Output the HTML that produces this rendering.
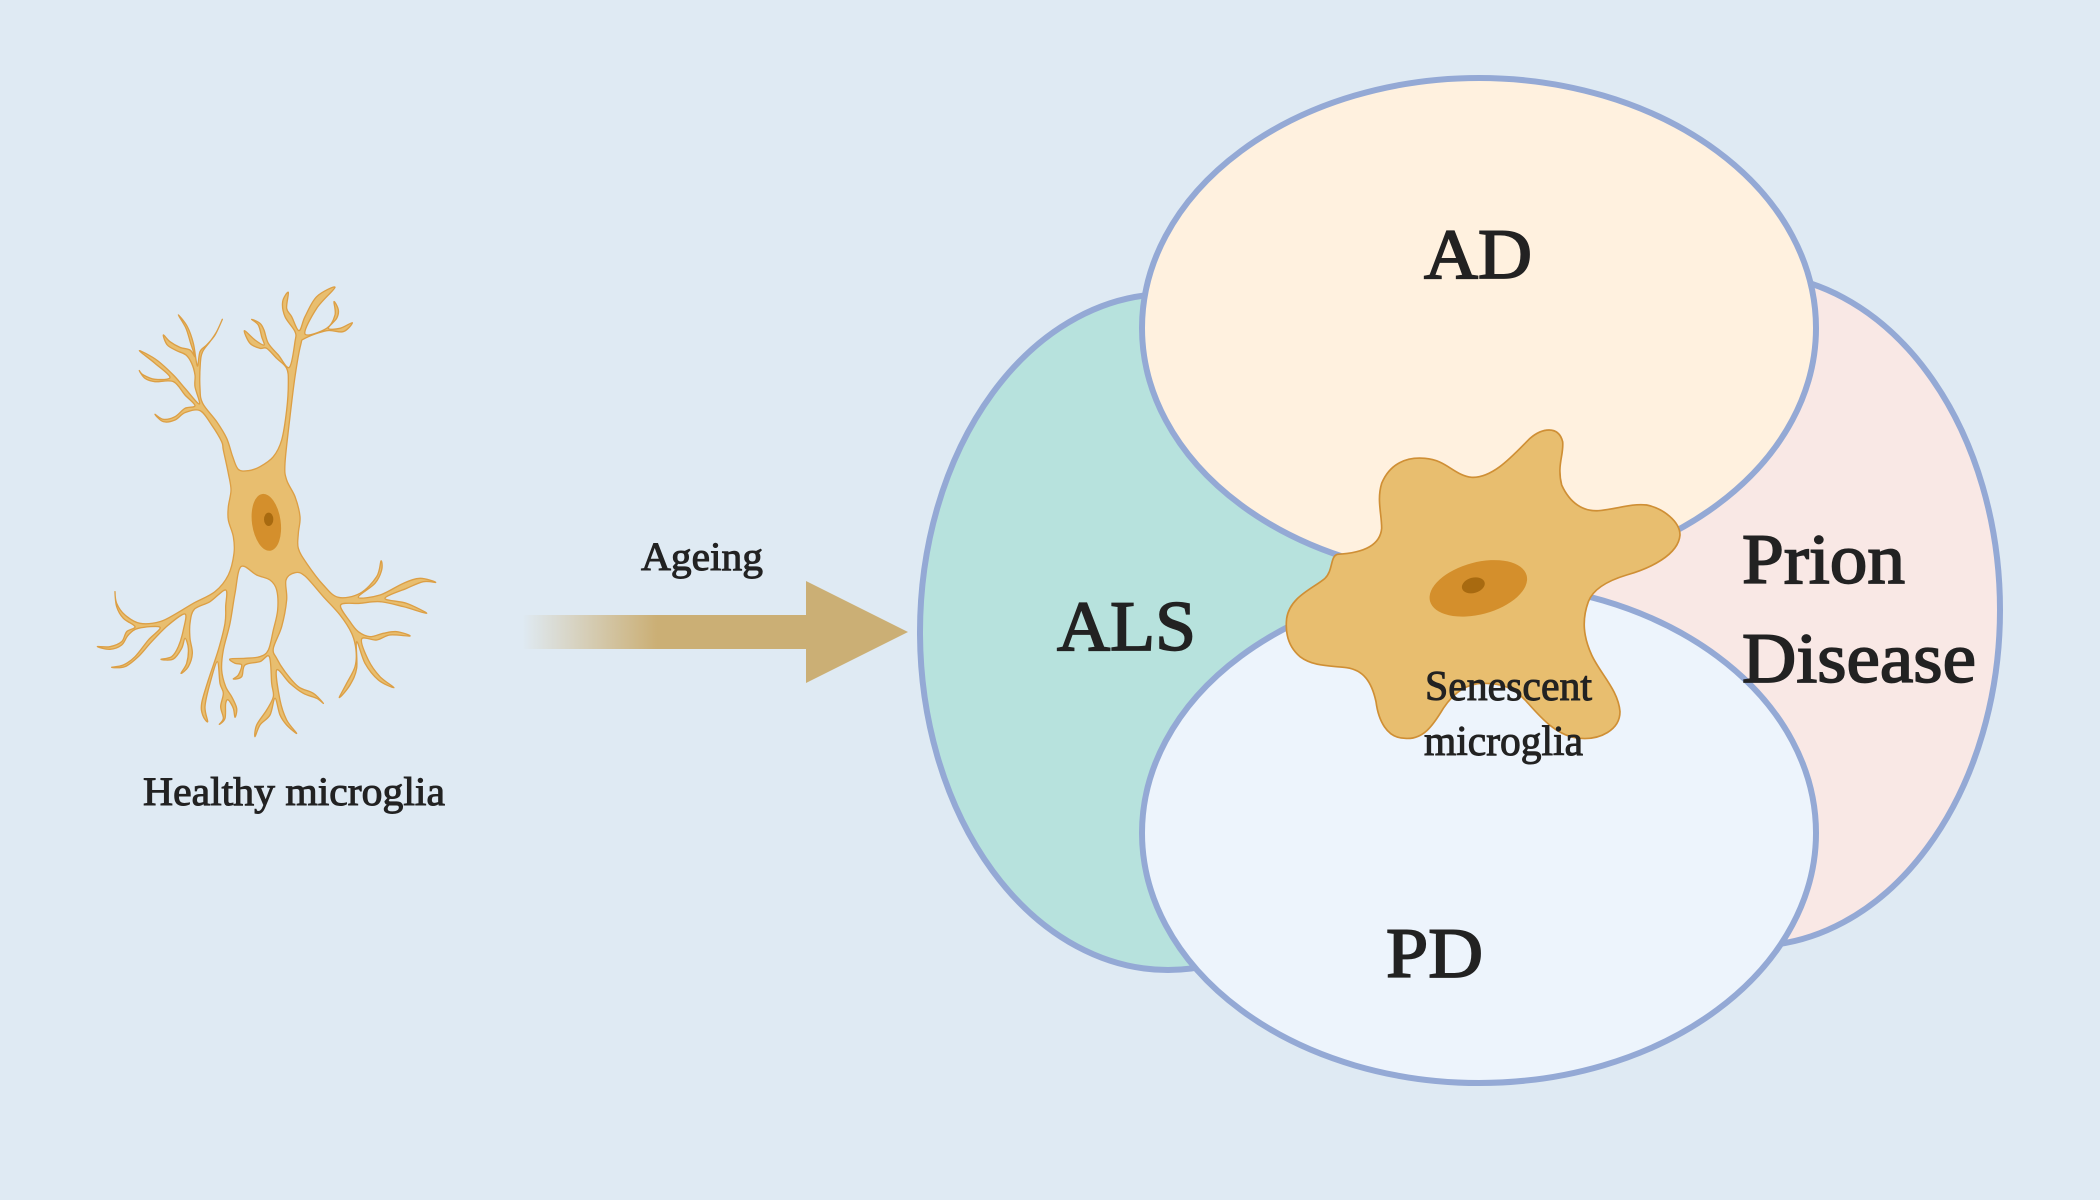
<!DOCTYPE html>
<html><head><meta charset="utf-8"><style>
html,body{margin:0;padding:0;width:2100px;height:1200px;background:#dfeaf3;overflow:hidden}
svg{display:block}
text{font-family:"Liberation Serif",serif;fill:#222;stroke:#222}
.b{stroke-width:1.7}.s{stroke-width:1}
</style></head><body>
<svg width="2100" height="1200" viewBox="0 0 2100 1200" xmlns="http://www.w3.org/2000/svg">
<defs><linearGradient id="g" gradientUnits="userSpaceOnUse" x1="522" y1="0" x2="657" y2="0">
<stop offset="0" stop-color="#cbaf75" stop-opacity="0"/><stop offset="1" stop-color="#cbaf75"/></linearGradient></defs>
<rect width="2100" height="1200" fill="#dfeaf3"/>
<g stroke="#94a9d5" stroke-width="6">
<ellipse cx="1168" cy="632" rx="248" ry="338" fill="#b7e2dd"/>
<ellipse cx="1752" cy="610" rx="248" ry="336" fill="#f9e8e5"/>
<ellipse cx="1479" cy="328" rx="337" ry="250" fill="#fff1df"/>
<ellipse cx="1479" cy="833" rx="337" ry="250" fill="#edf4fc"/>
</g>
<g transform="translate(1250,400) scale(.33333)">
<path d="M262,463 C320,460 390,445 395,385 C395,340 380,300 395,250 C420,190 470,170 525,175 C590,180 610,225 665,232 C730,235 790,165 840,115 C875,85 925,75 938,125 C942,165 920,195 935,255 C960,310 1000,335 1045,332 C1100,328 1140,310 1190,315 C1240,325 1290,365 1290,405 C1285,465 1200,505 1130,525 C1080,540 1030,565 1015,605 C995,660 1000,710 1025,765 C1050,820 1105,870 1110,935 C1110,990 1050,1020 990,1015 C920,1010 870,950 830,905 C790,860 750,850 700,850 C650,850 610,880 580,925 C550,975 520,1020 465,1015 C410,1015 385,960 378,905 C365,845 340,810 290,803 C240,797 190,800 150,770 C115,740 105,700 110,655 C120,590 190,565 225,535 C250,510 240,470 262,463 Z" fill="#e8be6f" stroke="#cf8f35" stroke-width="5"/>
<ellipse cx="685" cy="565" rx="150" ry="78" transform="rotate(-15 685 565)" fill="#d48f2c"/>
<ellipse cx="670" cy="556" rx="35" ry="23" transform="rotate(-15 670 556)" fill="#a86a10"/>
</g>
<g transform="translate(60,260) scale(.33333)">
<polygon id="n" fill="#e8be6f" stroke="#dc9f45" stroke-width="4" stroke-linejoin="round" points="535,628 518,590 500,535 470,485 428,430 420,385 421,310 428,275 450,245 470,215 487,178 465,225 440,255 420,275 412,318 400,250 382,200 355,165 378,205 392,250 405,290 390,270 360,262 330,245 310,225 322,255 350,272 378,285 395,310 405,345 405,380 418,432 375,385 340,345 290,300 238,272 285,310 330,352 285,358 250,345 238,332 255,355 285,365 340,365 375,405 405,437 375,445 345,470 310,478 285,463 310,485 345,480 375,458 420,452 455,495 485,545 490,570 505,640 513,690 505,740 505,780 520,830 522,880 505,945 465,995 400,1030 350,1060 300,1085 240,1090 195,1065 170,1030 165,995 170,1040 190,1075 225,1100 200,1115 185,1145 150,1160 112,1160 150,1168 185,1155 205,1125 235,1105 300,1102 265,1140 225,1190 190,1215 155,1222 195,1220 235,1190 275,1145 325,1095 375,1062 370,1110 355,1160 335,1190 303,1198 340,1197 365,1165 375,1135 385,1165 380,1210 363,1240 385,1220 397,1180 390,1135 390,1090 403,1048 450,1025 497,990 497,1040 495,1090 475,1170 445,1260 425,1330 428,1365 443,1385 435,1340 450,1270 472,1205 480,1270 490,1300 482,1340 490,1375 478,1393 495,1375 497,1330 505,1320 520,1345 525,1372 530,1345 515,1310 497,1280 485,1230 490,1170 510,1090 525,1000 543,920 590,945 630,960 650,990 653,1050 640,1110 625,1170 600,1190 555,1195 510,1197 525,1210 545,1215 535,1245 520,1257 545,1250 555,1215 600,1205 628,1190 635,1270 640,1310 620,1350 590,1395 585,1430 600,1395 630,1365 645,1315 660,1365 680,1395 710,1420 680,1380 660,1320 650,1230 690,1270 730,1300 770,1315 790,1330 760,1300 715,1280 675,1235 650,1195 640,1165 665,1100 680,1020 678,960 705,938 735,948 790,1010 840,1065 875,1120 888,1170 885,1220 860,1270 838,1313 870,1275 890,1225 890,1145 915,1210 955,1260 1002,1283 960,1250 925,1200 905,1137 950,1140 990,1125 1050,1128 1010,1115 970,1120 930,1130 895,1115 870,1085 842,1035 900,1030 960,1025 1030,1040 1100,1060 1040,1030 975,1015 1040,985 1090,965 1127,967 1080,955 1030,970 960,1005 895,1012 945,970 965,930 963,903 950,950 900,1000 835,1012 790,975 740,910 715,865 715,820 720,770 705,710 680,660 675,610 690,470 705,350 722,255 735,235 800,212 850,215 877,188 840,205 805,205 830,175 835,150 822,125 825,165 800,205 735,222 770,145 825,82 770,110 735,170 717,212 695,170 680,145 685,97 668,125 675,170 705,215 705,245 688,322 655,285 625,250 612,210 600,190 575,178 595,195 605,230 612,255 585,240 553,212 570,250 600,265 620,265 650,295 680,325 685,370 680,450 665,540 640,590 600,620 565,632"/>
<ellipse cx="619" cy="787" rx="43" ry="86" transform="rotate(-8 619 787)" fill="#d48f2c"/>
<ellipse cx="626" cy="778" rx="14" ry="20" fill="#a86a10"/>
</g>
<polygon points="522,615 806,615 806,581 908,632 806,683 806,649 522,649" fill="url(#g)"/>
<text class="s" x="143" y="805" font-size="40" textLength="302" lengthAdjust="spacingAndGlyphs">Healthy microglia</text>
<text class="s" x="641" y="570" font-size="40" textLength="122" lengthAdjust="spacingAndGlyphs">Ageing</text>
<text class="b" x="1424" y="278" font-size="71" textLength="108" lengthAdjust="spacingAndGlyphs">AD</text>
<text class="b" x="1057" y="650" font-size="71" textLength="139" lengthAdjust="spacingAndGlyphs">ALS</text>
<text class="b" x="1742" y="583" font-size="71" textLength="163" lengthAdjust="spacingAndGlyphs">Prion</text>
<text class="b" x="1742" y="682" font-size="71" textLength="234" lengthAdjust="spacingAndGlyphs">Disease</text>
<text class="b" x="1386" y="977" font-size="71" textLength="97" lengthAdjust="spacingAndGlyphs">PD</text>
<text class="s" x="1425" y="700" font-size="42" textLength="167" lengthAdjust="spacingAndGlyphs">Senescent</text>
<text class="s" x="1424" y="755" font-size="42" textLength="159" lengthAdjust="spacingAndGlyphs">microglia</text>
</svg>
<script>
(function(){
var e=document.getElementById('n'),t=e.getAttribute('points').trim().split(/\s+/).map(function(s){return s.split(',').map(Number)}),n=t.length,d='M'+t[0].join(',');
for(var i=0;i<n;i++){var a=t[(i+n-1)%n],b=t[i],c=t[(i+1)%n],f=t[(i+2)%n];
d+='C'+(b[0]+(c[0]-a[0])/6).toFixed(1)+','+(b[1]+(c[1]-a[1])/6).toFixed(1)+' '+(c[0]-(f[0]-b[0])/6).toFixed(1)+','+(c[1]-(f[1]-b[1])/6).toFixed(1)+' '+c[0]+','+c[1];}
var p=document.createElementNS('http://www.w3.org/2000/svg','path');
p.setAttribute('d',d+'Z');['fill','stroke','stroke-width','stroke-linejoin'].forEach(function(k){p.setAttribute(k,e.getAttribute(k))});
e.parentNode.replaceChild(p,e);
})();
</script>
</body></html>
